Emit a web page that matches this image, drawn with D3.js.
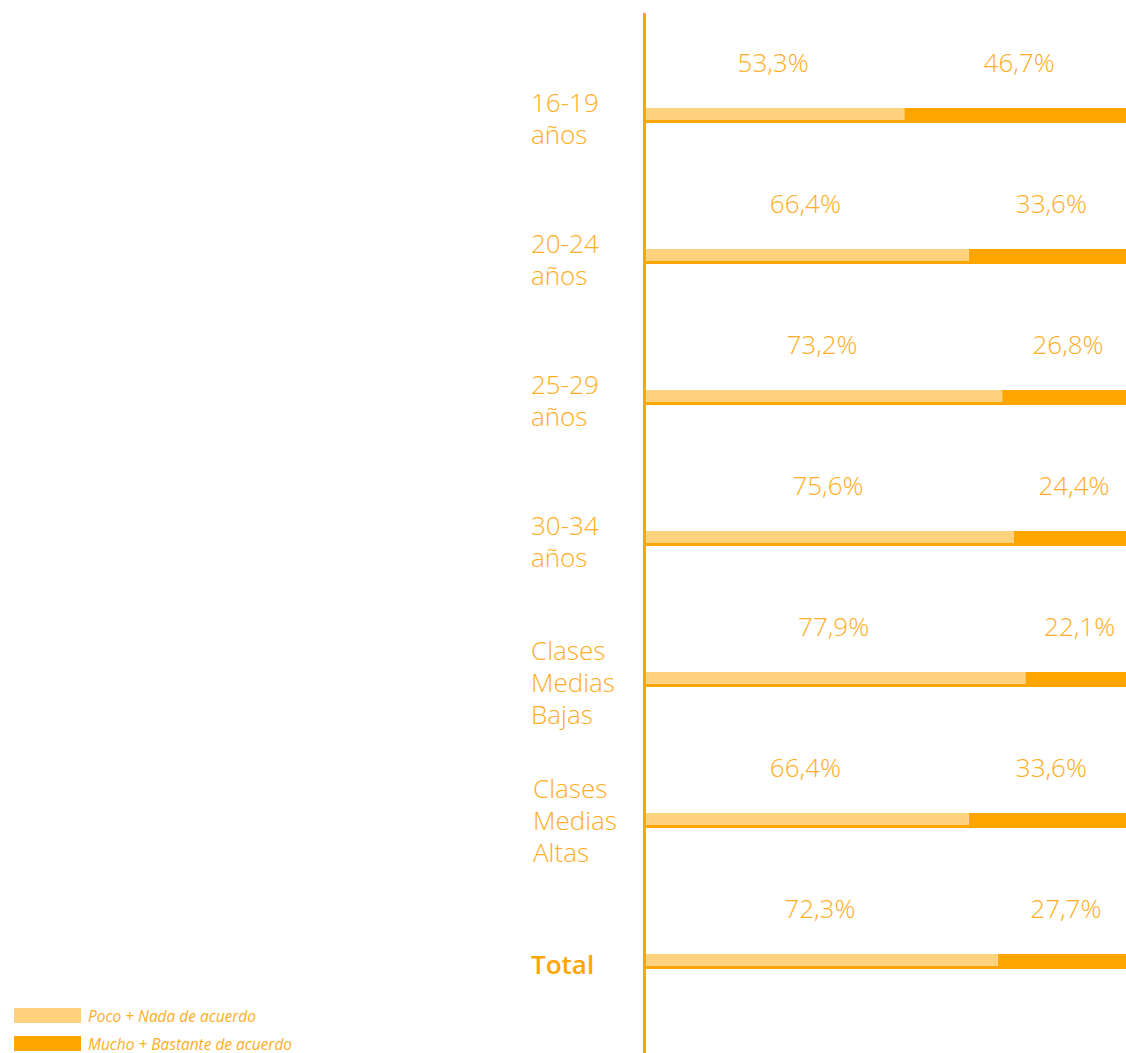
<!DOCTYPE html>
<html>
<head>
<meta charset="utf-8">
<script src="https://cdn.jsdelivr.net/npm/d3@7"></script>
<style>
  body { margin: 0; background: #fff; }
  text { font-family: "Open Sans", sans-serif; }
</style>
</head>
<body>
<div id="chart"></div>
<script>
// data
var categories = [
  ["16-19", "años"],
  ["20-24", "años"],
  ["25-29", "años"],
  ["30-34", "años"],
  ["Clases", "Medias", "Bajas"],
  ["Clases", "Medias", "Altas"],
  ["Total"]
];
var poco  = [53.3, 66.4, 73.2, 75.6, 77.9, 66.4, 72.3];
var mucho = [46.7, 33.6, 26.8, 24.4, 22.1, 33.6, 27.7];
var seriesNames = ["Poco + Nada de acuerdo", "Mucho + Bastante de acuerdo"];

var width = 1126,
    height = 1053;

var light = "#FFD27F",
    dark = "#FFA500",
    textCol = "#FFAD24";

var svg = d3.select("#chart").append("svg")
    .attr("width", width)
    .attr("height", height);

// bars run a bit past both ends and get clipped, like the original
var x = d3.scaleLinear()
    .domain([0, 100])
    .range([642, 1134]);

var y = d3.scalePoint()
    .domain(d3.range(categories.length))
    .range([108, 954]);

var barH = 15, lineH = 3;

svg.append("clipPath")
    .attr("id", "plot")
  .append("rect")
    .attr("x", 643)
    .attr("width", width - 643)
    .attr("height", height);

var fmt = function(v) { return v.toFixed(1).replace(".", ",") + "%"; };

var rows = svg.append("g").selectAll("g")
    .data(categories)
    .enter().append("g")
      .attr("transform", function(d, i) { return "translate(0," + y(i) + ")"; });

var bars = rows.append("g")
    .attr("clip-path", "url(#plot)");

// dark segment
bars.append("rect")
    .attr("x", function(d, i) { return x(poco[i]); })
    .attr("width", function(d, i) { return x(100) - x(poco[i]); })
    .attr("height", barH)
    .attr("fill", dark);

// bottom line under whole bar
bars.append("rect")
    .attr("x", x(0))
    .attr("y", barH - lineH)
    .attr("width", x(100) - x(0))
    .attr("height", lineH)
    .attr("fill", dark);

bars.append("rect")
    .attr("x", x(0))
    .attr("width", function(d, i) { return x(poco[i]) - x(0); })
    .attr("height", barH - lineH)
    .attr("fill", light);

// value labels
rows.append("text")
    .attr("x", function(d, i) { return (x(0) + x(poco[i])) / 2; })
    .attr("y", -36)
    .attr("text-anchor", "middle")
    .attr("font-size", 26)
    .attr("font-weight", 300)
    .attr("fill", textCol)
    .text(function(d, i) { return fmt(poco[i]); });

rows.append("text")
    .attr("x", function(d, i) { return (x(poco[i]) + x(100)) / 2; })
    .attr("y", -36)
    .attr("text-anchor", "middle")
    .attr("font-size", 26)
    .attr("font-weight", 300)
    .attr("fill", textCol)
    .text(function(d, i) { return fmt(mucho[i]); });

// category labels, one text per line
rows.each(function(d, i) {
  var g = d3.select(this), n = d.length;
  g.selectAll("text.cat")
    .data(d)
    .enter().append("text")
      .attr("class", "cat")
      .attr("x", i == 5 ? 533 : 531)
      .attr("y", function(t, j) { return (i == 5 ? 17 : 20) + (j - (n - 1) / 2) * 32; })
      .attr("font-size", 26)
      .attr("font-weight", n == 1 ? 600 : 300)
      .attr("fill", n == 1 ? dark : textCol)
      .text(function(t) { return t; });
});

// axis line
svg.append("line")
    .attr("x1", 644.5).attr("x2", 644.5)
    .attr("y1", 13).attr("y2", height)
    .attr("stroke", dark)
    .attr("stroke-width", 3);

// legend
var legend = svg.append("g").selectAll("g")
    .data(seriesNames)
    .enter().append("g")
      .attr("transform", function(d, i) { return "translate(14," + (1008 + i * 28) + ")"; });

legend.append("rect")
    .attr("width", 67)
    .attr("height", 15)
    .attr("fill", function(d, i) { return i == 0 ? light : dark; });

legend.append("text")
    .attr("x", 74)
    .attr("y", 13.5)
    .attr("font-size", 17)
    .attr("font-style", "italic")
    .attr("fill", textCol)
    .attr("textLength", function(d, i) { return i == 0 ? 168 : 204; })
    .attr("lengthAdjust", "spacingAndGlyphs")
    .text(function(d) { return d; });
</script>
</body>
</html>
